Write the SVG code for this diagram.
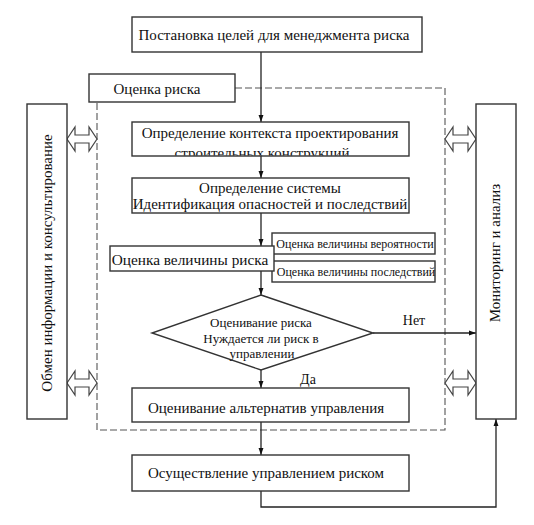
<svg xmlns="http://www.w3.org/2000/svg" width="534" height="525" viewBox="0 0 534 525">
<style>
.box{fill:#fff;stroke:#333;stroke-width:1.4}
.t{font-family:"Liberation Serif","Times New Roman",serif;fill:#111;text-anchor:middle}
.ln{fill:none;stroke:#222;stroke-width:1.3}
.dash{fill:none;stroke:#555;stroke-width:1.1;stroke-dasharray:7 3}
.dbl{fill:#fff;stroke:#444;stroke-width:1.2;stroke-linejoin:miter}
</style>
<defs>
<marker id="ah" viewBox="0 0 10 10" refX="10" refY="5" markerWidth="7" markerHeight="7" markerUnits="userSpaceOnUse" orient="auto">
<path d="M0,1.5 L10,5 L0,8.5 Z" fill="#111"/>
</marker>
<clipPath id="clipCtx"><rect x="132" y="122" width="277" height="33.5"/></clipPath>
</defs>

<g id="frame">
<path class="dash" d="M235,88 H445 V430 H97 V102"/>
</g>

<g id="connectors">
<line class="ln" x1="261" y1="52" x2="261" y2="122" marker-end="url(#ah)"/>
<line class="ln" x1="261" y1="156" x2="261" y2="178" marker-end="url(#ah)"/>
<line class="ln" x1="261" y1="213" x2="261" y2="246" marker-end="url(#ah)"/>
<line class="ln" x1="261" y1="271" x2="261" y2="295" marker-end="url(#ah)"/>
<line class="ln" x1="261" y1="370" x2="261" y2="388" marker-end="url(#ah)"/>
<line class="ln" x1="373" y1="333" x2="476" y2="333" marker-end="url(#ah)"/>
<line class="ln" x1="261" y1="422" x2="261" y2="455" marker-end="url(#ah)"/>
<path class="ln" d="M261,491 V507 H496 V419" marker-end="url(#ah)"/>
<polygon class="dbl" points="67,139 75,127 75,135 89,135 89,127 97,139 89,151 89,143 75,143 75,151"/>
<polygon class="dbl" points="67,383 75,371 75,379 89,379 89,371 97,383 89,395 89,387 75,387 75,395"/>
<polygon class="dbl" points="445,139 453,127 453,135 468,135 468,127 476,139 468,151 468,143 453,143 453,151"/>
<polygon class="dbl" points="445,383 453,371 453,379 468,379 468,371 476,383 468,395 468,387 453,387 453,395"/>
<text class="t" x="414" y="325" font-size="14">Нет</text>
<text class="t" x="308" y="384" font-size="14">Да</text>
</g>

<g id="goals">
<rect class="box" x="132" y="17" width="290" height="35"/>
<text class="t" x="274" y="40" font-size="15">Постановка целей для менеджмента риска</text>
</g>

<g id="risk-assessment">
<rect class="box" x="89" y="74" width="146" height="28"/>
<text class="t" x="157" y="94" font-size="15">Оценка риска</text>
</g>

<g id="exchange">
<rect class="box" x="27" y="104" width="40" height="315"/>
<text class="t" font-size="15" transform="translate(52,263) rotate(-90)">Обмен информации и консультирование</text>
</g>

<g id="monitoring">
<rect class="box" x="476" y="104" width="40" height="315"/>
<text class="t" font-size="15" transform="translate(500,253) rotate(-90)">Мониторинг и анализ</text>
</g>

<g id="context">
<rect class="box" x="132" y="122" width="277" height="34"/>
<g clip-path="url(#clipCtx)">
<text class="t" x="270" y="138" font-size="15">Определение контекста проектирования</text>
<text class="t" x="262" y="158" font-size="15">строительных конструкций</text>
</g>
</g>

<g id="system">
<rect class="box" x="132" y="178" width="277" height="35"/>
<text class="t" x="270" y="193" font-size="15">Определение системы</text>
<text class="t" x="270" y="209" font-size="15">Идентификация опасностей и последствий</text>
</g>

<g id="probability">
<rect class="box" x="272" y="233" width="163" height="21"/>
<text class="t" x="355" y="248" font-size="12">Оценка величины вероятности</text>
</g>

<g id="consequences">
<rect class="box" x="272" y="261" width="163" height="21"/>
<text class="t" x="356" y="276" font-size="12">Оценка величины последствий</text>
</g>

<g id="magnitude">
<rect class="box" x="110" y="246" width="164" height="25"/>
<text class="t" x="190" y="265" font-size="15.3">Оценка величины риска</text>
</g>

<g id="decision">
<polygon class="box" points="261,295 373,333 261,370 152,333"/>
<text class="t" x="261" y="327" font-size="13">Оценивание риска</text>
<text class="t" x="261" y="343" font-size="13">Нуждается ли риск в</text>
<text class="t" x="262" y="358" font-size="13">управлении</text>
</g>

<g id="alternatives">
<rect class="box" x="132" y="388" width="277" height="34"/>
<text class="t" x="266" y="413" font-size="15">Оценивание альтернатив управления</text>
</g>

<g id="implementation">
<rect class="box" x="132" y="455" width="277" height="36"/>
<text class="t" x="266" y="478" font-size="15">Осуществление управлением риском</text>
</g>
</svg>
